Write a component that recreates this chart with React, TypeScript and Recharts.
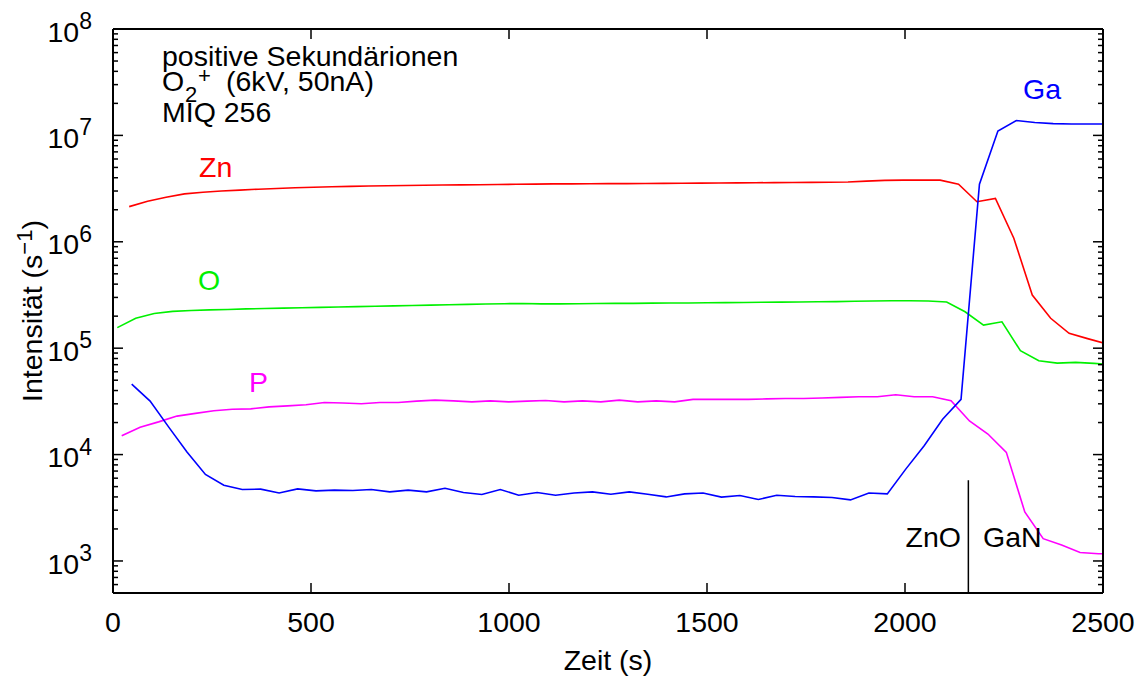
import React from 'react'
import { LineChart, Line, XAxis, YAxis, ReferenceLine } from 'recharts'

const FONT = '"Liberation Sans", Arial, Helvetica, sans-serif'
const FS = 28.5

// Zykluszeiten (s) – jede Masse wird im Zyklus etwas versetzt gemessen
const cycleStart = [
  10.9, 57.4, 104.0, 150.5, 197.1, 243.6, 290.1, 336.7, 383.2, 429.8,
  476.3, 522.8, 569.4, 615.9, 662.5, 709.0, 755.5, 802.1, 848.6, 895.2,
  941.7, 988.2, 1034.8, 1081.3, 1127.9, 1174.4, 1220.9, 1267.5, 1314.0, 1360.6,
  1407.1, 1453.6, 1500.2, 1546.7, 1593.3, 1639.8, 1686.3, 1732.9, 1779.4, 1826.0,
  1872.5, 1919.0, 1965.6, 2012.1, 2058.7, 2105.2, 2151.7, 2198.3, 2244.8, 2291.4,
  2337.9, 2384.4, 2431.0, 2477.5, 2524.1
]
const offsetO = 0
const offsetP = 11.1
const offsetZn = 30.0
const offsetGa = 36.3

const intensZn = [
  2.14e6, 2.40e6, 2.62e6, 2.82e6, 2.92e6, 3.00e6, 3.06e6, 3.12e6, 3.17e6, 3.22e6,
  3.26e6, 3.29e6, 3.32e6, 3.34e6, 3.36e6, 3.38e6, 3.40e6, 3.42e6, 3.43e6, 3.44e6,
  3.45e6, 3.47e6, 3.48e6, 3.50e6, 3.50e6, 3.51e6, 3.52e6, 3.52e6, 3.53e6, 3.54e6,
  3.55e6, 3.56e6, 3.57e6, 3.58e6, 3.59e6, 3.60e6, 3.61e6, 3.62e6, 3.63e6, 3.65e6,
  3.72e6, 3.78e6, 3.80e6, 3.80e6, 3.80e6, 3.48e6, 2.38e6, 2.56e6, 1.08e6, 3.16e5,
  1.91e5, 1.38e5, 1.23e5, 1.10e5
]
const intensO = [
  1.56e5, 1.91e5, 2.12e5, 2.22e5, 2.26e5, 2.29e5, 2.31e5, 2.34e5, 2.36e5, 2.38e5,
  2.40e5, 2.42e5, 2.44e5, 2.46e5, 2.48e5, 2.50e5, 2.52e5, 2.54e5, 2.56e5, 2.58e5,
  2.60e5, 2.62e5, 2.63e5, 2.61e5, 2.61e5, 2.62e5, 2.63e5, 2.64e5, 2.64e5, 2.65e5,
  2.66e5, 2.66e5, 2.67e5, 2.68e5, 2.69e5, 2.70e5, 2.71e5, 2.72e5, 2.73e5, 2.74e5,
  2.76e5, 2.78e5, 2.79e5, 2.79e5, 2.78e5, 2.72e5, 2.20e5, 1.65e5, 1.77e5, 9.47e4,
  7.61e4, 7.24e4, 7.35e4, 7.20e4, 7.00e4
]
const intensP = [
  1.50e4, 1.81e4, 2.03e4, 2.30e4, 2.44e4, 2.58e4, 2.67e4, 2.69e4, 2.81e4, 2.87e4,
  2.94e4, 3.09e4, 3.05e4, 3.00e4, 3.09e4, 3.09e4, 3.18e4, 3.25e4, 3.20e4, 3.13e4,
  3.20e4, 3.13e4, 3.18e4, 3.22e4, 3.13e4, 3.20e4, 3.13e4, 3.25e4, 3.13e4, 3.20e4,
  3.13e4, 3.30e4, 3.30e4, 3.30e4, 3.30e4, 3.34e4, 3.37e4, 3.37e4, 3.40e4, 3.45e4,
  3.49e4, 3.49e4, 3.65e4, 3.49e4, 3.49e4, 3.20e4, 2.07e4, 1.56e4, 1.05e4, 2.89e3,
  1.62e3, 1.41e3, 1.20e3, 1.17e3, 1.17e3
]
const intensGa = [
  45900, 31800, 18200, 10600, 6500, 5150, 4700, 4730, 4360, 4760,
  4560, 4630, 4590, 4700, 4460, 4630, 4460, 4830, 4400, 4210,
  4700, 4150, 4400, 4150, 4360, 4460, 4240, 4460, 4240, 4000,
  4270, 4360, 3980, 4120, 3780, 4150, 4040, 4000, 3950, 3750,
  4360, 4270, 7300, 12100, 21500, 33000, 3.48e6, 1.10e7, 1.38e7, 1.32e7,
  1.29e7, 1.28e7, 1.28e7, 1.28e7
]

const xTicks = [0, 500, 1000, 1500, 2000, 2500]
const yDecades = [1e3, 1e4, 1e5, 1e6, 1e7, 1e8]
const yMinorFactors = [2, 3, 4, 5, 6, 7, 8, 9]
const interfaceTime = 2160
const interfaceTop = 5740

const yTicks = [...yDecades, ...[1e2, 1e3, 1e4, 1e5, 1e6, 1e7].flatMap(b => yMinorFactors.map(f => f * b))]
  .filter(v => v >= 500 && v <= 1e8)
  .sort((a, b) => a - b)

const toSeries = (vals: number[], offset: number) =>
  vals.map((v, i) => ({ t: cycleStart[i] + offset, v }))

const dataZn = toSeries(intensZn, offsetZn)
const dataO = toSeries(intensO, offsetO)
const dataP = toSeries(intensP, offsetP)
const dataGa = toSeries(intensGa, offsetGa)

const isMajor = (v: number) => yDecades.includes(v)

function LeftTick(props: any) {
  const { x, y, payload } = props
  const v = payload.value
  const major = isMajor(v)
  return (
    <g>
      <line x1={x} x2={x + (major ? 10 : 5)} y1={y} y2={y} stroke="#000" strokeWidth={1.5} />
      {major && (
        <text x={x - 21} y={y + 12.7} textAnchor="end" fontSize={FS} fontFamily={FONT} fill="#000">
          10<tspan dy={-12.7} fontSize={23}>{Math.round(Math.log10(v))}</tspan>
        </text>
      )}
    </g>
  )
}

function RightTick(props: any) {
  const { x, y, payload } = props
  const major = isMajor(payload.value)
  return <line x1={x} x2={x - (major ? 10 : 5)} y1={y} y2={y} stroke="#000" strokeWidth={1.5} />
}

function BottomTick(props: any) {
  const { x, y, payload } = props
  return (
    <g>
      <line x1={x} x2={x} y1={y} y2={y - 10} stroke="#000" strokeWidth={1.5} />
      <text x={x} y={y + 38.7} textAnchor="middle" fontSize={FS} fontFamily={FONT} fill="#000">
        {payload.value}
      </text>
    </g>
  )
}

function TopTick(props: any) {
  const { x, y } = props
  return <line x1={x} x2={x} y1={y} y2={y + 10} stroke="#000" strokeWidth={1.5} />
}

const axisLine = { stroke: '#000', strokeWidth: 2 }

export default function App() {
  return (
    <div style={{ position: 'absolute', left: 0, top: 0, width: 1146, height: 681, background: '#fff' }}>
      <LineChart width={1146} height={681} margin={{ top: 0, right: 0, bottom: 0, left: 0 }}>
        <XAxis
          xAxisId={0}
          dataKey="t"
          type="number"
          domain={[0, 2500]}
          allowDataOverflow
          ticks={xTicks}
          interval={0}
          height={88}
          tickSize={0}
          tickMargin={0}
          tickLine={false}
          axisLine={axisLine}
          tick={<BottomTick />}
        />
        <XAxis
          xAxisId="top"
          orientation="top"
          dataKey="t"
          type="number"
          domain={[0, 2500]}
          allowDataOverflow
          ticks={xTicks}
          interval={0}
          height={29}
          tickSize={0}
          tickMargin={0}
          tickLine={false}
          axisLine={axisLine}
          tick={<TopTick />}
        />
        <YAxis
          yAxisId={0}
          type="number"
          scale="log"
          domain={[500, 1e8]}
          allowDataOverflow
          ticks={yTicks}
          interval={0}
          width={113}
          tickSize={0}
          tickMargin={0}
          tickLine={false}
          axisLine={axisLine}
          tick={<LeftTick />}
        />
        <YAxis
          yAxisId="right"
          orientation="right"
          type="number"
          scale="log"
          domain={[500, 1e8]}
          allowDataOverflow
          ticks={yTicks}
          interval={0}
          width={43}
          tickSize={0}
          tickMargin={0}
          tickLine={false}
          axisLine={axisLine}
          tick={<RightTick />}
        />
        <ReferenceLine
          segment={[{ x: interfaceTime, y: 500 }, { x: interfaceTime, y: interfaceTop }]}
          stroke="#000"
          strokeWidth={1.5}
        />
        <Line data={dataZn} dataKey="v" type="linear" stroke="#ff0000" strokeWidth={1.6} dot={false} isAnimationActive={false} />
        <Line data={dataO} dataKey="v" type="linear" stroke="#00f000" strokeWidth={1.6} dot={false} isAnimationActive={false} />
        <Line data={dataP} dataKey="v" type="linear" stroke="#ff00ff" strokeWidth={1.6} dot={false} isAnimationActive={false} />
        <Line data={dataGa} dataKey="v" type="linear" stroke="#0000ff" strokeWidth={1.6} dot={false} isAnimationActive={false} />
      </LineChart>

      {/* Beschriftungen wie im gnuplot-Original */}
      <svg width={1146} height={681} style={{ position: 'absolute', left: 0, top: 0, pointerEvents: 'none' }}>
        <g fontFamily={FONT} fontSize={FS} fill="#000">
          <text x={162} y={66}>positive Sekundärionen</text>
          <text x={162} y={91}>
            O
            <tspan x={185} y={101.5} fontSize={22}>2</tspan>
            <tspan x={198} y={83} fontSize={22}>+</tspan>
            <tspan x={226} y={91}>(6kV, 50nA)</tspan>
          </text>
          <text x={162} y={122}>MIQ 256</text>
          <text x={199} y={177} fill="#ff0000">Zn</text>
          <text x={198} y={290} fill="#00f000">O</text>
          <text x={249} y={392} fill="#ff00ff">P</text>
          <text x={1023} y={99} fill="#0000ff">Ga</text>
          <text x={961} y={547} textAnchor="end">ZnO</text>
          <text x={983} y={547}>GaN</text>
          <text x={608} y={670} textAnchor="middle">Zeit (s)</text>
          <text x={42} y={311} textAnchor="middle" transform="rotate(-90, 42, 311)">
            Intensität (s<tspan dy={-10} fontSize={22}>−1</tspan><tspan dy={10}>)</tspan>
          </text>
        </g>
      </svg>
    </div>
  )
}
